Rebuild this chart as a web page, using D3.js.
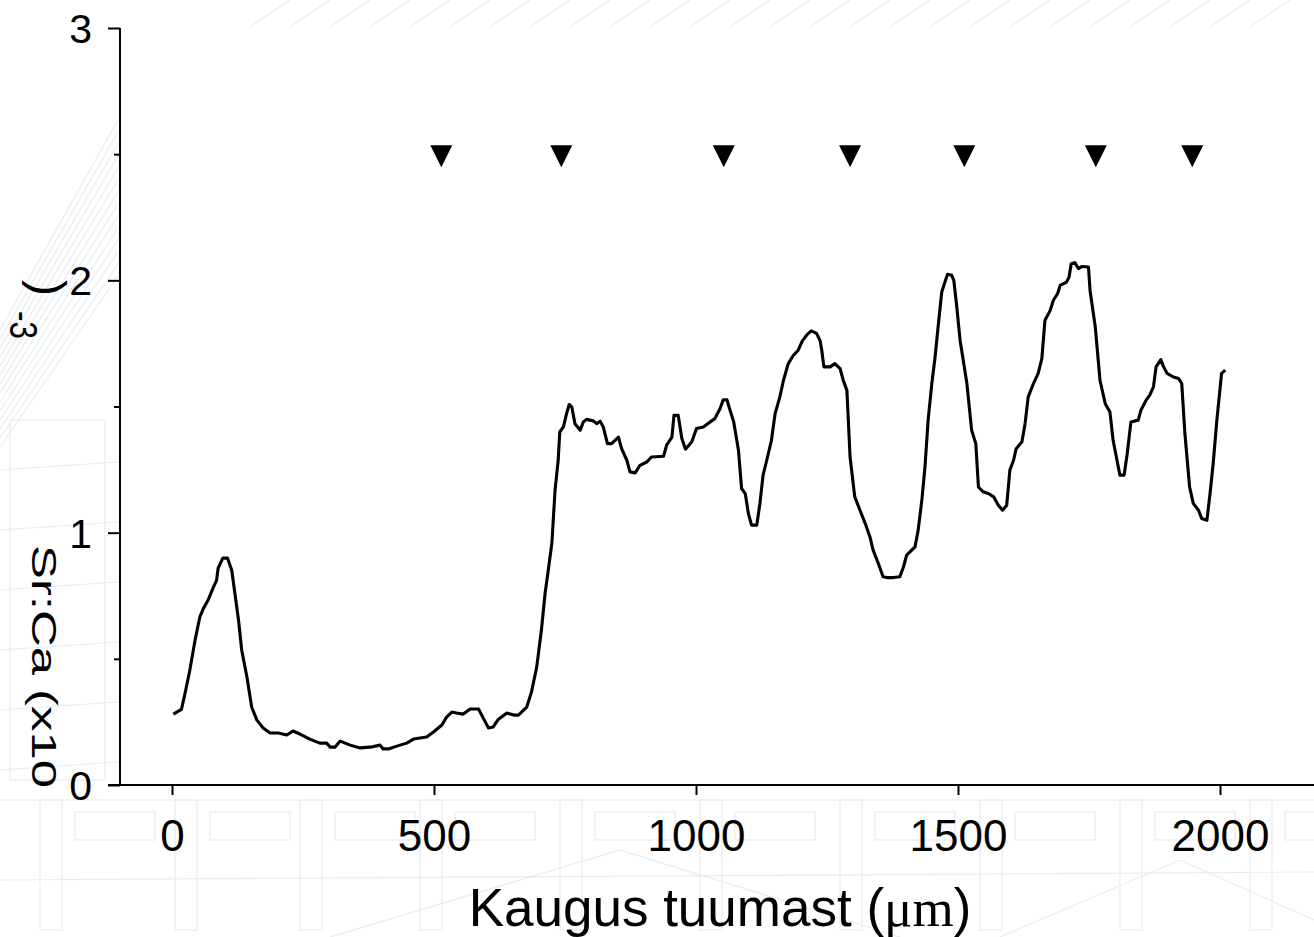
<!DOCTYPE html>
<html>
<head>
<meta charset="utf-8">
<script src="https://cdn.jsdelivr.net/npm/d3@7"></script>
<style>
  html, body { margin: 0; padding: 0; background: #ffffff; }
  svg { display: block; font-family: "Liberation Sans", Arial, sans-serif; }
</style>
</head>
<body>
<svg id="chart" width="1314" height="937"></svg>
<script>
// Distance from the otolith core (µm) and Sr:Ca ratio (x10^-3)
const distance = [
  2.5, 18, 25, 34, 44, 53, 60, 69, 79, 85, 88, 97, 106, 114, 120, 127, 133, 143, 152, 162,
  174, 187, 203, 219, 231, 244, 263, 282, 295, 302, 311, 321, 340, 359, 378, 397, 403, 413, 429, 448,
  461, 486, 499, 515, 524, 534, 543, 556, 569, 585, 594, 604, 613, 623, 639, 652, 661, 677, 686, 696,
  705, 712, 718, 725, 731, 737, 740, 747, 753, 758, 763, 769, 779, 785, 791, 804, 811, 817, 823, 831,
  839, 852, 858, 868, 874, 884, 893, 906, 915, 938, 944, 954, 958, 966, 973, 980, 992, 1001, 1014, 1027,
  1036, 1046, 1052, 1059, 1065, 1072, 1081, 1087, 1094, 1100, 1106, 1116, 1122, 1128, 1135, 1144, 1151, 1160, 1167, 1176,
  1186, 1195, 1203, 1212, 1220, 1230, 1237, 1240, 1244, 1256, 1265, 1275, 1281, 1288, 1294, 1303, 1313, 1323, 1332, 1338,
  1348, 1357, 1364, 1377, 1389, 1396, 1402, 1418, 1424, 1431, 1437, 1443, 1450, 1456, 1462, 1469, 1475, 1480, 1488, 1492,
  1497, 1504, 1510, 1517, 1526, 1534, 1539, 1548, 1558, 1568, 1577, 1585, 1593, 1599, 1606, 1611, 1622, 1628, 1634, 1644,
  1653, 1660, 1666, 1676, 1682, 1690, 1695, 1707, 1712, 1716, 1723, 1730, 1736, 1749, 1752, 1762, 1771, 1781, 1790, 1796,
  1804, 1809, 1817, 1823, 1830, 1844, 1849, 1859, 1866, 1873, 1878, 1887, 1892, 1899, 1911, 1921, 1927, 1933, 1942, 1949,
  1959, 1965, 1975, 1981, 1987, 1994, 2003, 2010
];
const srCa = [
  0.281, 0.300, 0.364, 0.455, 0.574, 0.665, 0.700, 0.733, 0.784, 0.810, 0.859, 0.899, 0.899, 0.851, 0.760, 0.653, 0.535, 0.428, 0.309, 0.257,
  0.226, 0.206, 0.206, 0.198, 0.214, 0.202, 0.182, 0.166, 0.166, 0.150, 0.150, 0.174, 0.158, 0.147, 0.150, 0.158, 0.143, 0.143, 0.154, 0.166,
  0.182, 0.190, 0.210, 0.238, 0.269, 0.289, 0.285, 0.281, 0.301, 0.301, 0.265, 0.226, 0.230, 0.261, 0.285, 0.277, 0.277, 0.309, 0.368, 0.467,
  0.614, 0.760, 0.850, 0.960, 1.168, 1.287, 1.399, 1.419, 1.472, 1.508, 1.498, 1.432, 1.406, 1.439, 1.449, 1.443, 1.432, 1.442, 1.419, 1.353,
  1.353, 1.379, 1.333, 1.287, 1.241, 1.237, 1.267, 1.280, 1.300, 1.303, 1.347, 1.379, 1.465, 1.465, 1.373, 1.331, 1.360, 1.413, 1.419, 1.439,
  1.452, 1.492, 1.527, 1.527, 1.485, 1.439, 1.327, 1.175, 1.155, 1.076, 1.030, 1.030, 1.116, 1.228, 1.287, 1.366, 1.472, 1.538, 1.604, 1.670,
  1.703, 1.723, 1.760, 1.785, 1.800, 1.790, 1.760, 1.723, 1.657, 1.657, 1.670, 1.650, 1.604, 1.564, 1.300, 1.142, 1.089, 1.036, 0.983, 0.931,
  0.878, 0.825, 0.822, 0.822, 0.825, 0.865, 0.911, 0.944, 1.010, 1.129, 1.261, 1.446, 1.591, 1.690, 1.815, 1.954, 1.993, 2.024, 2.020, 2.000,
  1.908, 1.762, 1.683, 1.591, 1.406, 1.353, 1.181, 1.162, 1.155, 1.142, 1.109, 1.089, 1.109, 1.248, 1.287, 1.333, 1.360, 1.432, 1.538, 1.591,
  1.631, 1.690, 1.842, 1.881, 1.921, 1.947, 1.980, 1.993, 2.013, 2.066, 2.070, 2.046, 2.055, 2.053, 1.960, 1.815, 1.604, 1.511, 1.478, 1.366,
  1.281, 1.228, 1.228, 1.314, 1.439, 1.446, 1.485, 1.525, 1.545, 1.578, 1.657, 1.686, 1.659, 1.631, 1.617, 1.611, 1.591, 1.393, 1.181, 1.116,
  1.089, 1.056, 1.049, 1.155, 1.274, 1.446, 1.631, 1.644
];

// Annulus positions marked with triangles
const markDistance = [514, 743, 1053, 1294, 1512, 1763, 1947];
const markLevel = 2.5;

// Axis ticks
const xTicks = [0, 500, 1000, 1500, 2000];
const yMajorTicks = [0, 1, 2, 3];
const yMinorTicks = [0.5, 1.5, 2.5];

const svg = d3.select("#chart");
const W = 1314, H = 937;

const x = d3.scaleLinear().domain([0, 2000]).range([172, 1220]);
const y = d3.scaleLinear().domain([0, 3]).range([785, 28]);

// Faint sketched backdrop around the plot frame
const deco = svg.append("g")
  .attr("fill", "none")
  .attr("stroke", "#d3dee6")
  .attr("stroke-width", 1.2)
  .attr("opacity", 0.55);

// roof-like strokes on the left margin
for (let i = 0; i < 14; i++) {
  deco.append("line")
    .attr("x1", 0).attr("y1", 330 + i * 9)
    .attr("x2", 118).attr("y2", 120 + i * 12);
}
for (let i = 0; i < 6; i++) {
  deco.append("line")
    .attr("x1", 0).attr("y1", 470 + i * 60)
    .attr("x2", 118).attr("y2", 470 + i * 60 - 8);
}
deco.append("rect").attr("x", 10).attr("y", 420).attr("width", 95).attr("height", 360);
// strokes in the top band
for (let i = 0; i < 26; i++) {
  deco.append("line")
    .attr("x1", 250 + i * 40).attr("y1", 27)
    .attr("x2", 290 + i * 40).attr("y2", 0);
}
// facade under the x axis
const facadeX = [40, 175, 300, 420, 560, 700, 840, 980, 1120, 1250];
facadeX.forEach(fx => {
  deco.append("rect").attr("x", fx).attr("y", 800).attr("width", 22).attr("height", 130);
  deco.append("rect").attr("x", fx + 35).attr("y", 812).attr("width", 80).attr("height", 28);
});
deco.append("line").attr("x1", 0).attr("y1", 800).attr("x2", W).attr("y2", 800);
deco.append("line").attr("x1", 0).attr("y1", 880).attr("x2", W).attr("y2", 872);
deco.append("line").attr("x1", 330).attr("y1", 937).attr("x2", 620).attr("y2", 850);
deco.append("line").attr("x1", 620).attr("y1", 850).attr("x2", 900).attr("y2", 937);
deco.append("line").attr("x1", 1000).attr("y1", 937).attr("x2", 1180).attr("y2", 860);
deco.append("line").attr("x1", 1180).attr("y1", 860).attr("x2", 1314).attr("y2", 920);

// White plot area
svg.append("rect")
  .attr("x", 120).attr("y", 27)
  .attr("width", W - 120).attr("height", 785 - 27)
  .attr("fill", "#ffffff");

// Y axis
const yAxis = svg.append("g")
  .attr("transform", "translate(120,0)")
  .call(d3.axisLeft(y).tickValues(yMajorTicks).tickFormat(d3.format("d"))
        .tickSize(12).tickPadding(16).tickSizeOuter(0));
yAxis.select(".domain").remove();
yAxis.selectAll(".tick line").attr("stroke", "#000").attr("stroke-width", 2);
yAxis.selectAll(".tick text")
  .attr("fill", "#000")
  .attr("font-size", 41)
  .attr("font-family", "'Liberation Sans', Arial, sans-serif")
  .attr("dy", "0.35em");

const yMinor = svg.append("g")
  .attr("transform", "translate(120,0)")
  .call(d3.axisLeft(y).tickValues(yMinorTicks).tickFormat("").tickSize(6).tickSizeOuter(0));
yMinor.select(".domain").remove();
yMinor.selectAll(".tick line").attr("stroke", "#000").attr("stroke-width", 2);

svg.append("line")
  .attr("x1", 120).attr("x2", 120)
  .attr("y1", y(3)).attr("y2", y(0))
  .attr("stroke", "#000").attr("stroke-width", 2);

// X axis
const xAxis = svg.append("g")
  .attr("transform", `translate(0,${y(0)})`)
  .call(d3.axisBottom(x).tickValues(xTicks).tickFormat(d3.format("d"))
        .tickSize(10).tickPadding(25).tickSizeOuter(0));
xAxis.select(".domain").remove();
xAxis.selectAll(".tick line").attr("stroke", "#000").attr("stroke-width", 2);
xAxis.selectAll(".tick text")
  .attr("fill", "#000")
  .attr("font-size", 44)
  .attr("font-family", "'Liberation Sans', Arial, sans-serif");

svg.append("line")
  .attr("x1", 108).attr("x2", W)
  .attr("y1", y(0)).attr("y2", y(0))
  .attr("stroke", "#000").attr("stroke-width", 2);

// Sr:Ca profile
const profile = distance.map((d, i) => [d, srCa[i]]);
svg.append("path")
  .datum(profile)
  .attr("fill", "none")
  .attr("stroke", "#000")
  .attr("stroke-width", 3.1)
  .attr("stroke-linejoin", "round")
  .attr("d", d3.line().x(d => x(d[0])).y(d => y(d[1])));

// Annulus markers (downward triangles)
svg.append("g")
  .selectAll("path")
  .data(markDistance)
  .join("path")
  .attr("transform", d => `translate(${x(d)},${y(markLevel)})`)
  .attr("d", "M-11,-9 L11,-9 L0,13 Z")
  .attr("fill", "#000");

// X axis title
const xt = svg.append("text")
  .attr("x", 720).attr("y", 926)
  .attr("text-anchor", "middle")
  .attr("font-size", 53)
  .attr("fill", "#000");
xt.append("tspan").text("Kaugus tuumast (");
xt.append("tspan").attr("font-family", "'Liberation Serif', 'Times New Roman', serif").text("μm");
xt.append("tspan").text(")");

// Y axis title, set vertically reading downward
svg.append("text")
  .attr("transform", "translate(32,545) rotate(90)")
  .attr("font-size", 35)
  .attr("textLength", 243)
  .attr("lengthAdjust", "spacingAndGlyphs")
  .attr("fill", "#000")
  .text("Sr:Ca (x10");
svg.append("text")
  .attr("transform", "translate(10,311) rotate(90)")
  .attr("font-size", 38)
  .attr("textLength", 28)
  .attr("lengthAdjust", "spacingAndGlyphs")
  .attr("fill", "#000")
  .text("-3");
svg.append("text")
  .attr("transform", "translate(32,280) rotate(90)")
  .attr("font-size", 48)
  .attr("fill", "#000")
  .text(")");
</script>
</body>
</html>
